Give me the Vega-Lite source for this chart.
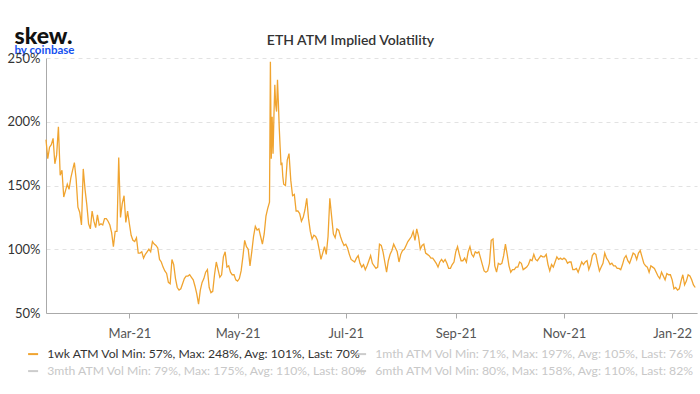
{
"$schema": "https://vega.github.io/schema/vega-lite/v6.json",
"width": 651, "height": 255,
"autosize": "none",
"padding": {"left": 46, "top": 58, "right": 3, "bottom": 81},
"background": "white",
"config": {"font": "Lato", "view": {"stroke": null}},
"title": {"text": "ETH ATM Implied Volatility", "fontSize": 14, "fontWeight": 600, "color": "#333333", "anchor": "middle", "dx": -21, "dy": 31, "offset": 8},
"data": {"values": [
{"t":"2021-01-13","v":186},{"t":"2021-01-14","v":171},{"t":"2021-01-15","v":180},{"t":"2021-01-16","v":182},{"t":"2021-01-17","v":187},{"t":"2021-01-18","v":167},{"t":"2021-01-19","v":174},{"t":"2021-01-20","v":196},{"t":"2021-01-21","v":158},{"t":"2021-01-22","v":162},{"t":"2021-01-23","v":141},{"t":"2021-01-24","v":146},{"t":"2021-01-25","v":151},{"t":"2021-01-26","v":147},{"t":"2021-01-27","v":156},{"t":"2021-01-28","v":162},{"t":"2021-01-29","v":168},{"t":"2021-01-30","v":155},{"t":"2021-01-31","v":133},
{"t":"2021-02-01","v":129},{"t":"2021-02-02","v":119},{"t":"2021-02-03","v":163},{"t":"2021-02-04","v":147},{"t":"2021-02-05","v":135},{"t":"2021-02-06","v":120},{"t":"2021-02-07","v":116},{"t":"2021-02-08","v":130},{"t":"2021-02-09","v":122},{"t":"2021-02-10","v":117},{"t":"2021-02-11","v":127},{"t":"2021-02-12","v":119},{"t":"2021-02-13","v":120},{"t":"2021-02-14","v":119},{"t":"2021-02-15","v":124},{"t":"2021-02-16","v":124},{"t":"2021-02-17","v":122},{"t":"2021-02-18","v":119},{"t":"2021-02-19","v":113},{"t":"2021-02-20","v":102},{"t":"2021-02-21","v":114},{"t":"2021-02-22","v":114},{"t":"2021-02-23","v":172},{"t":"2021-02-24","v":125},{"t":"2021-02-25","v":136},{"t":"2021-02-26","v":142},{"t":"2021-02-27","v":121},{"t":"2021-02-28","v":130},
{"t":"2021-03-01","v":120},{"t":"2021-03-02","v":111},{"t":"2021-03-03","v":107},{"t":"2021-03-04","v":106},{"t":"2021-03-05","v":109},{"t":"2021-03-06","v":97},{"t":"2021-03-07","v":97},{"t":"2021-03-08","v":98},{"t":"2021-03-09","v":93},{"t":"2021-03-10","v":96},{"t":"2021-03-11","v":98},{"t":"2021-03-12","v":100},{"t":"2021-03-13","v":98},{"t":"2021-03-14","v":106},{"t":"2021-03-15","v":104},{"t":"2021-03-16","v":103},{"t":"2021-03-17","v":101},{"t":"2021-03-18","v":92},{"t":"2021-03-19","v":90},{"t":"2021-03-20","v":86},{"t":"2021-03-21","v":83},{"t":"2021-03-22","v":81},{"t":"2021-03-23","v":74},{"t":"2021-03-24","v":73},{"t":"2021-03-25","v":92},{"t":"2021-03-26","v":88},{"t":"2021-03-27","v":77},{"t":"2021-03-28","v":70},{"t":"2021-03-29","v":68},{"t":"2021-03-30","v":69},{"t":"2021-03-31","v":73},
{"t":"2021-04-01","v":77},{"t":"2021-04-02","v":79},{"t":"2021-04-03","v":79},{"t":"2021-04-04","v":80},{"t":"2021-04-05","v":78},{"t":"2021-04-06","v":76},{"t":"2021-04-07","v":71},{"t":"2021-04-08","v":65},{"t":"2021-04-09","v":57},{"t":"2021-04-10","v":68},{"t":"2021-04-11","v":74},{"t":"2021-04-12","v":77},{"t":"2021-04-13","v":82},{"t":"2021-04-14","v":84},{"t":"2021-04-15","v":70},{"t":"2021-04-16","v":66},{"t":"2021-04-17","v":67},{"t":"2021-04-18","v":80},{"t":"2021-04-19","v":90},{"t":"2021-04-20","v":84},{"t":"2021-04-21","v":78},{"t":"2021-04-22","v":80},{"t":"2021-04-23","v":94},{"t":"2021-04-24","v":98},{"t":"2021-04-25","v":86},{"t":"2021-04-26","v":87},{"t":"2021-04-27","v":82},{"t":"2021-04-28","v":80},{"t":"2021-04-29","v":80},{"t":"2021-04-30","v":76},
{"t":"2021-05-01","v":75},{"t":"2021-05-02","v":77},{"t":"2021-05-03","v":83},{"t":"2021-05-04","v":94},{"t":"2021-05-05","v":107},{"t":"2021-05-06","v":102},{"t":"2021-05-07","v":100},{"t":"2021-05-08","v":87},{"t":"2021-05-09","v":98},{"t":"2021-05-10","v":110},{"t":"2021-05-11","v":118},{"t":"2021-05-12","v":115},{"t":"2021-05-13","v":116},{"t":"2021-05-14","v":110},{"t":"2021-05-15","v":104},{"t":"2021-05-16","v":112},{"t":"2021-05-17","v":126},{"t":"2021-05-18","v":132},{"t":"2021-05-19T00:00","v":137},{"t":"2021-05-19T12:00","v":247},{"t":"2021-05-20T00:00","v":171},{"t":"2021-05-20T12:00","v":204},{"t":"2021-05-21T00:00","v":175},{"t":"2021-05-21T12:00","v":205},{"t":"2021-05-22T00:00","v":229},{"t":"2021-05-22T12:00","v":213},{"t":"2021-05-23T00:00","v":208},{"t":"2021-05-23T12:00","v":233},{"t":"2021-05-24T00:00","v":215},{"t":"2021-05-24T12:00","v":195},{"t":"2021-05-25T00:00","v":180},{"t":"2021-05-25T12:00","v":166},{"t":"2021-05-26T00:00","v":168},{"t":"2021-05-26T12:00","v":157},{"t":"2021-05-27","v":151},{"t":"2021-05-28","v":150},{"t":"2021-05-29","v":170},{"t":"2021-05-30","v":175},{"t":"2021-05-31","v":154},
{"t":"2021-06-01","v":142},{"t":"2021-06-02","v":143},{"t":"2021-06-03","v":130},{"t":"2021-06-04","v":130},{"t":"2021-06-05","v":128},{"t":"2021-06-06","v":122},{"t":"2021-06-07","v":125},{"t":"2021-06-08","v":131},{"t":"2021-06-09","v":140},{"t":"2021-06-10","v":124},{"t":"2021-06-11","v":114},{"t":"2021-06-12","v":108},{"t":"2021-06-13","v":111},{"t":"2021-06-14","v":110},{"t":"2021-06-15","v":107},{"t":"2021-06-16","v":100},{"t":"2021-06-17","v":92},{"t":"2021-06-18","v":97},{"t":"2021-06-19","v":102},{"t":"2021-06-20","v":96},{"t":"2021-06-21","v":110},{"t":"2021-06-22","v":140},{"t":"2021-06-23","v":126},{"t":"2021-06-24","v":112},{"t":"2021-06-25","v":109},{"t":"2021-06-26","v":116},{"t":"2021-06-27","v":115},{"t":"2021-06-28","v":110},{"t":"2021-06-29","v":106},{"t":"2021-06-30","v":103},
{"t":"2021-07-01","v":104},{"t":"2021-07-02","v":101},{"t":"2021-07-03","v":96},{"t":"2021-07-04","v":92},{"t":"2021-07-05","v":91},{"t":"2021-07-06","v":90},{"t":"2021-07-07","v":93},{"t":"2021-07-08","v":95},{"t":"2021-07-09","v":89},{"t":"2021-07-10","v":86},{"t":"2021-07-11","v":88},{"t":"2021-07-12","v":84},{"t":"2021-07-13","v":87},{"t":"2021-07-14","v":91},{"t":"2021-07-15","v":95},{"t":"2021-07-16","v":89},{"t":"2021-07-17","v":87},{"t":"2021-07-18","v":85},{"t":"2021-07-19","v":86},{"t":"2021-07-20","v":104},{"t":"2021-07-21","v":103},{"t":"2021-07-22","v":98},{"t":"2021-07-23","v":90},{"t":"2021-07-24","v":82},{"t":"2021-07-25","v":91},{"t":"2021-07-26","v":96},{"t":"2021-07-27","v":99},{"t":"2021-07-28","v":104},{"t":"2021-07-29","v":101},{"t":"2021-07-30","v":98},{"t":"2021-07-31","v":90},
{"t":"2021-08-01","v":96},{"t":"2021-08-02","v":99},{"t":"2021-08-03","v":100},{"t":"2021-08-04","v":103},{"t":"2021-08-05","v":106},{"t":"2021-08-06","v":108},{"t":"2021-08-07","v":110},{"t":"2021-08-08","v":114},{"t":"2021-08-09","v":107},{"t":"2021-08-10","v":116},{"t":"2021-08-11","v":110},{"t":"2021-08-12","v":100},{"t":"2021-08-13","v":103},{"t":"2021-08-14","v":104},{"t":"2021-08-15","v":97},{"t":"2021-08-16","v":96},{"t":"2021-08-17","v":95},{"t":"2021-08-18","v":93},{"t":"2021-08-19","v":93},{"t":"2021-08-20","v":91},{"t":"2021-08-21","v":89},{"t":"2021-08-22","v":86},{"t":"2021-08-23","v":90},{"t":"2021-08-24","v":92},{"t":"2021-08-25","v":90},{"t":"2021-08-26","v":92},{"t":"2021-08-27","v":89},{"t":"2021-08-28","v":85},{"t":"2021-08-29","v":85},{"t":"2021-08-30","v":88},{"t":"2021-08-31","v":90},
{"t":"2021-09-01","v":98},{"t":"2021-09-02","v":102},{"t":"2021-09-03","v":96},{"t":"2021-09-04","v":91},{"t":"2021-09-05","v":91},{"t":"2021-09-06","v":93},{"t":"2021-09-07","v":90},{"t":"2021-09-08","v":98},{"t":"2021-09-09","v":102},{"t":"2021-09-10","v":96},{"t":"2021-09-11","v":94},{"t":"2021-09-12","v":98},{"t":"2021-09-13","v":97},{"t":"2021-09-14","v":98},{"t":"2021-09-15","v":93},{"t":"2021-09-16","v":88},{"t":"2021-09-17","v":83},{"t":"2021-09-18","v":82},{"t":"2021-09-19","v":83},{"t":"2021-09-20","v":89},{"t":"2021-09-21","v":107},{"t":"2021-09-22","v":108},{"t":"2021-09-23","v":87},{"t":"2021-09-24","v":82},{"t":"2021-09-25","v":89},{"t":"2021-09-26","v":88},{"t":"2021-09-27","v":89},{"t":"2021-09-28","v":95},{"t":"2021-09-29","v":104},{"t":"2021-09-30","v":96},
{"t":"2021-10-01","v":87},{"t":"2021-10-02","v":82},{"t":"2021-10-03","v":84},{"t":"2021-10-04","v":84},{"t":"2021-10-05","v":86},{"t":"2021-10-06","v":86},{"t":"2021-10-07","v":90},{"t":"2021-10-08","v":89},{"t":"2021-10-09","v":84},{"t":"2021-10-10","v":85},{"t":"2021-10-11","v":86},{"t":"2021-10-12","v":88},{"t":"2021-10-13","v":92},{"t":"2021-10-14","v":91},{"t":"2021-10-15","v":96},{"t":"2021-10-16","v":92},{"t":"2021-10-17","v":91},{"t":"2021-10-18","v":93},{"t":"2021-10-19","v":95},{"t":"2021-10-20","v":94},{"t":"2021-10-21","v":94},{"t":"2021-10-22","v":96},{"t":"2021-10-23","v":88},{"t":"2021-10-24","v":83},{"t":"2021-10-25","v":88},{"t":"2021-10-26","v":86},{"t":"2021-10-27","v":90},{"t":"2021-10-28","v":94},{"t":"2021-10-29","v":92},{"t":"2021-10-30","v":93},{"t":"2021-10-31","v":92},
{"t":"2021-11-01","v":93},{"t":"2021-11-02","v":92},{"t":"2021-11-03","v":89},{"t":"2021-11-04","v":90},{"t":"2021-11-05","v":90},{"t":"2021-11-06","v":84},{"t":"2021-11-07","v":84},{"t":"2021-11-08","v":85},{"t":"2021-11-09","v":82},{"t":"2021-11-10","v":86},{"t":"2021-11-11","v":90},{"t":"2021-11-12","v":88},{"t":"2021-11-13","v":90},{"t":"2021-11-14","v":91},{"t":"2021-11-15","v":84},{"t":"2021-11-16","v":88},{"t":"2021-11-17","v":95},{"t":"2021-11-18","v":97},{"t":"2021-11-19","v":96},{"t":"2021-11-20","v":89},{"t":"2021-11-21","v":83},{"t":"2021-11-22","v":86},{"t":"2021-11-23","v":89},{"t":"2021-11-24","v":97},{"t":"2021-11-25","v":93},{"t":"2021-11-26","v":91},{"t":"2021-11-27","v":88},{"t":"2021-11-28","v":89},{"t":"2021-11-29","v":87},{"t":"2021-11-30","v":87},
{"t":"2021-12-01","v":85},{"t":"2021-12-02","v":85},{"t":"2021-12-03","v":84},{"t":"2021-12-04","v":88},{"t":"2021-12-05","v":93},{"t":"2021-12-06","v":95},{"t":"2021-12-07","v":91},{"t":"2021-12-08","v":89},{"t":"2021-12-09","v":93},{"t":"2021-12-10","v":97},{"t":"2021-12-11","v":96},{"t":"2021-12-12","v":92},{"t":"2021-12-13","v":97},{"t":"2021-12-14","v":99},{"t":"2021-12-15","v":94},{"t":"2021-12-16","v":89},{"t":"2021-12-17","v":87},{"t":"2021-12-18","v":86},{"t":"2021-12-19","v":82},{"t":"2021-12-20","v":87},{"t":"2021-12-21","v":86},{"t":"2021-12-22","v":85},{"t":"2021-12-23","v":82},{"t":"2021-12-24","v":79},{"t":"2021-12-25","v":77},{"t":"2021-12-26","v":82},{"t":"2021-12-27","v":79},{"t":"2021-12-28","v":76},{"t":"2021-12-29","v":81},{"t":"2021-12-30","v":80},{"t":"2021-12-31","v":80},
{"t":"2022-01-01","v":76},{"t":"2022-01-02","v":69},{"t":"2022-01-03","v":70},{"t":"2022-01-04","v":68},{"t":"2022-01-05","v":69},{"t":"2022-01-06","v":75},{"t":"2022-01-07","v":80},{"t":"2022-01-08","v":72},{"t":"2022-01-09","v":75},{"t":"2022-01-10","v":80},{"t":"2022-01-11","v":79},{"t":"2022-01-12","v":76},{"t":"2022-01-13","v":72},{"t":"2022-01-14","v":70}
]},
"encoding": {
  "x": {"field": "t", "type": "temporal",
    "scale": {"domain": [{"year": 2021, "month": 1, "date": 13}, {"year": 2022, "month": 1, "date": 15}]},
    "axis": {"values": [{"year": 2021, "month": 3, "date": 1}, {"year": 2021, "month": 5, "date": 1}, {"year": 2021, "month": 7, "date": 1}, {"year": 2021, "month": 9, "date": 1}, {"year": 2021, "month": 11, "date": 1}, {"year": 2022, "month": 1, "date": 1}],
      "format": "%b-%y", "grid": false, "tickSize": 5, "tickColor": "#aaaaaa", "domainColor": "#aaaaaa",
      "labelFontSize": 13, "labelColor": "#555555", "labelPadding": 9,
      "title": "by coinbase", "titleX": -32, "titleY": -260, "titleAlign": "left", "titleBaseline": "alphabetic",
      "titleColor": "#1652f0", "titleFontSize": 11.5, "titleFontWeight": "bold"}},
  "y": {"field": "v", "type": "quantitative",
    "scale": {"domain": [50, 250], "nice": false, "zero": false},
    "axis": {"values": [50, 100, 150, 200, 250], "labelExpr": "datum.value + '%'",
      "grid": true, "gridDash": [4, 4], "gridColor": "#e2e2e2", "domainColor": "#aaaaaa", "ticks": false,
      "labelPadding": 6, "labelFontSize": 13, "labelColor": "#333333",
      "title": "skew.", "titleAngle": 0, "titleX": -32, "titleY": -15, "titleAlign": "left", "titleBaseline": "alphabetic",
      "titleFontSize": 23, "titleFontWeight": 900, "titleColor": "#111111"}}
},
"layer": [
  {"mark": {"type": "line", "strokeWidth": 1.3},
   "encoding": {"color": {"datum": "1wk ATM Vol", "type": "nominal",
     "scale": {"domain": ["1wk ATM Vol", "3mth ATM Vol"], "range": ["#f0a430", "#cccccc"]},
     "legend": {"orient": "none", "legendX": -19, "legendY": 290, "direction": "vertical", "title": null,
       "symbolType": "stroke", "symbolSize": 100, "symbolStrokeWidth": 2, "labelFontSize": 12.2, "labelLimit": 400, "labelOffset": 8,
       "rowPadding": 4, "labelColor": "#333333",
       "labelExpr": "datum.label == '1wk ATM Vol' ? '1wk ATM Vol Min: 57%, Max: 248%, Avg: 101%, Last: 70%' : '3mth ATM Vol Min: 79%, Max: 175%, Avg: 110%, Last: 80%'",
       "encode": {"labels": {"update": {"fill": {"signal": "datum.value == '1wk ATM Vol' ? '#333333' : '#c8c8c8'"}}}}}}}},
  {"transform": [{"filter": "false"}],
   "mark": {"type": "line", "strokeWidth": 1.3},
   "encoding": {"color": {"datum": "1mth ATM Vol", "type": "nominal",
     "scale": {"domain": ["1mth ATM Vol", "6mth ATM Vol"], "range": ["#cccccc", "#cccccc"]},
     "legend": {"orient": "none", "legendX": 309, "legendY": 290, "direction": "vertical", "title": null,
       "symbolType": "stroke", "symbolSize": 100, "symbolStrokeWidth": 2, "labelFontSize": 12.2, "labelLimit": 400, "labelOffset": 8,
       "rowPadding": 4, "labelColor": "#c8c8c8",
       "labelExpr": "datum.label == '1mth ATM Vol' ? '1mth ATM Vol Min: 71%, Max: 197%, Avg: 105%, Last: 76%' : '6mth ATM Vol Min: 80%, Max: 158%, Avg: 110%, Last: 82%'"}}}}
],
"resolve": {"scale": {"color": "independent"}}
}
